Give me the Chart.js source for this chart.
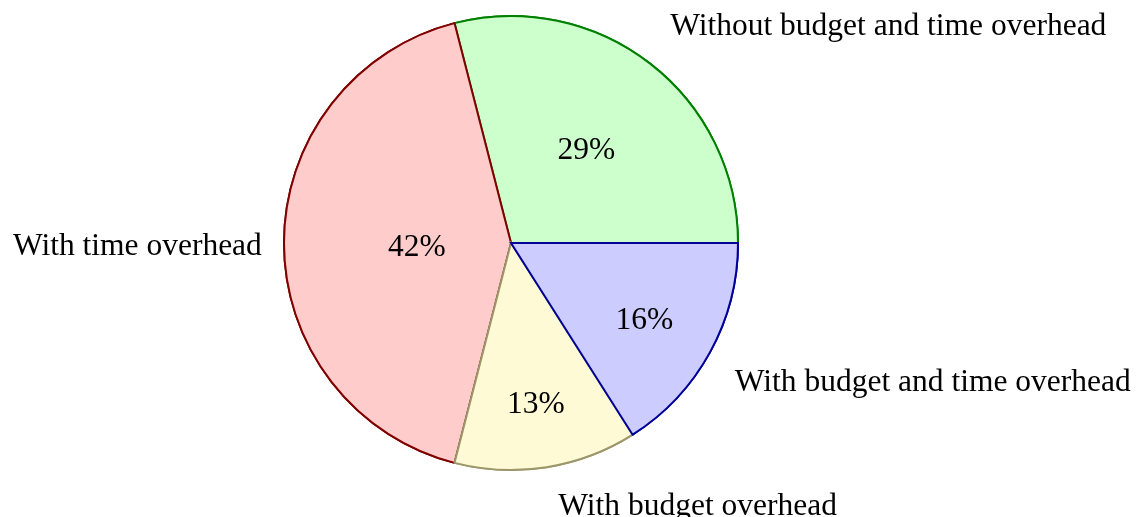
<!DOCTYPE html>
<html>
<head>
<meta charset="utf-8">
<script src="https://cdn.jsdelivr.net/npm/chart.js@4"></script>
<style>
  html, body { margin: 0; padding: 0; background: #fff; }
  #wrap { width: 1146px; height: 517px; position: relative; }
</style>
</head>
<body>
<div id="wrap"><canvas id="Chart"></canvas></div>
<script>
// slices clockwise from 3 o'clock
const labels = ['With budget and time overhead', 'With budget overhead', 'With time overhead', 'Without budget and time overhead'];
const shares = [16, 13, 42, 29];

const fills = ['#ccccff', '#fffad6', '#ffcccc', '#ccffcc'];
const edges = ['#000099', '#9c976a', '#800000', '#008000'];

const FONT = '31.5px "Liberation Serif", "Times New Roman", serif';

// percentages inside the slices and names outside, pgf-pie style
const pieLabels = {
  id: 'pieLabels',
  afterDatasetsDraw(chart) {
    const ctx = chart.ctx;
    const arcs = chart.getDatasetMeta(0).data;
    ctx.save();
    // repaint counter-clockwise so the last slice's edge sits on top
    arcs.slice().reverse().forEach(a => a.draw(ctx));

    ctx.font = FONT;
    ctx.fillStyle = '#000';
    ctx.textBaseline = 'alphabetic';
    arcs.forEach((arc, i) => {
      const mid = (arc.startAngle + arc.endAngle) / 2;
      const span = (arc.endAngle - arc.startAngle) * 180 / Math.PI;
      const c = Math.cos(mid), s = Math.sin(mid);
      const r = arc.outerRadius;

      // inner value, pulled outward for thin slices
      const k = 0.8 + Math.min((span - 10) / 110 * -0.3, 0);
      ctx.textAlign = 'center';
      ctx.fillText(shares[i] + '%', arc.x + c * r * k, arc.y + s * r * k + 13);

      // outer name anchored at its nearest corner
      const R = r * 1.08;
      const px = arc.x + c * R, py = arc.y + s * R;
      let x = px, y = py + 11.5;
      if (c > 0.05) { ctx.textAlign = 'left'; x = px + 9; }
      else if (c < -0.05) { ctx.textAlign = 'right'; x = px - 4; }
      if (s > 0.05) y = py + 29.5;
      else if (s < -0.05) y = py - 14;
      ctx.fillText(labels[i], x, y);
    });
    ctx.restore();
  }
};

const data = {
  labels: labels,
  datasets: [{
    data: shares,
    backgroundColor: fills,
    borderColor: edges,
    borderWidth: 2,
    borderJoinStyle: 'miter'
  }]
};

const config = {
  type: 'pie',
  data: data,
  options: {
    responsive: false,
    animation: false,
    rotation: 90,
    radius: 227,
    layout: { padding: { left: 284, right: 408, top: 16, bottom: 47 } },
    plugins: {
      legend: { display: false },
      tooltip: { enabled: false }
    }
  },
  plugins: [pieLabels]
};

window.addEventListener('load', () => {
  const cv = document.getElementById('Chart');
  cv.width = 1146;
  cv.height = 517;
  new Chart(cv, config);
});
</script>
</body>
</html>
